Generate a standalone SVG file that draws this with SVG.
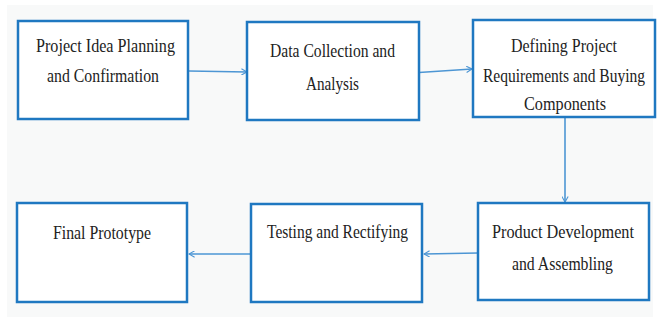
<svg xmlns="http://www.w3.org/2000/svg" width="657" height="320" viewBox="0 0 657 320">
<style>
.box{fill:#ffffff;stroke:#1f78c1;stroke-width:2.5}
.t{font-family:"Liberation Serif","Times New Roman",serif;font-size:19px;fill:#222222}
.c{fill:none;stroke:#4d96d4;stroke-width:1.6}
</style>
<defs>
<marker id="ah" viewBox="0 0 10 10" refX="9" refY="5" markerWidth="7" markerHeight="7" markerUnits="userSpaceOnUse" orient="auto">
<path d="M1,0.5 L9,5 L1,9.5" fill="none" stroke="#4d96d4" stroke-width="1.6"/>
</marker>
</defs>
<rect x="0" y="0" width="657" height="320" fill="#ffffff"/>
<rect x="7" y="5" width="646" height="312" fill="#f8f9f9"/>
<g id="connectors">
<line class="c" x1="189" y1="71" x2="247" y2="72" marker-end="url(#ah)"/>
<line class="c" x1="419" y1="72.5" x2="472" y2="69" marker-end="url(#ah)"/>
<line class="c" x1="565" y1="118" x2="565" y2="202" marker-end="url(#ah)"/>
<line class="c" x1="478" y1="253" x2="424" y2="254" marker-end="url(#ah)"/>
<line class="c" x1="251" y1="254" x2="189" y2="254" marker-end="url(#ah)"/>
</g>
<g id="n1">
<rect class="box" x="18" y="21" width="170" height="98"/>
<g transform="scale(0.8,1)">
<text class="t" x="45" y="52" textLength="173.75" lengthAdjust="spacingAndGlyphs">Project  Idea Planning</text>
<text class="t" x="58.75" y="82" textLength="140" lengthAdjust="spacingAndGlyphs">and Confirmation</text>
</g>
</g>
<g id="n2">
<rect class="box" x="247" y="22" width="172" height="98"/>
<g transform="scale(0.8,1)">
<text class="t" x="337.5" y="57" textLength="156.25" lengthAdjust="spacingAndGlyphs">Data Collection and</text>
<text class="t" x="382.5" y="90" textLength="66.25" lengthAdjust="spacingAndGlyphs">Analysis</text>
</g>
</g>
<g id="n3">
<rect class="box" x="473" y="20" width="182" height="97"/>
<g transform="scale(0.8,1)">
<text class="t" x="638.75" y="52" textLength="132.5" lengthAdjust="spacingAndGlyphs">Defining Project</text>
<text class="t" x="603.75" y="82" textLength="202.5" lengthAdjust="spacingAndGlyphs">Requirements and Buying</text>
<text class="t" x="655" y="110" textLength="102.5" lengthAdjust="spacingAndGlyphs">Components</text>
</g>
</g>
<g id="n4">
<rect class="box" x="17" y="203" width="170" height="99"/>
<g transform="scale(0.8,1)">
<text class="t" x="66.25" y="239" textLength="122.5" lengthAdjust="spacingAndGlyphs">Final Prototype</text>
</g>
</g>
<g id="n5">
<rect class="box" x="251" y="204" width="171" height="98"/>
<g transform="scale(0.8,1)">
<text class="t" x="333.75" y="238" textLength="176.25" lengthAdjust="spacingAndGlyphs">Testing and Rectifying</text>
</g>
</g>
<g id="n6">
<rect class="box" x="478" y="203" width="171" height="97"/>
<g transform="scale(0.8,1)">
<text class="t" x="615" y="238" textLength="177.5" lengthAdjust="spacingAndGlyphs">Product Development</text>
<text class="t" x="640" y="270" textLength="126.25" lengthAdjust="spacingAndGlyphs">and Assembling</text>
</g>
</g>
</svg>
